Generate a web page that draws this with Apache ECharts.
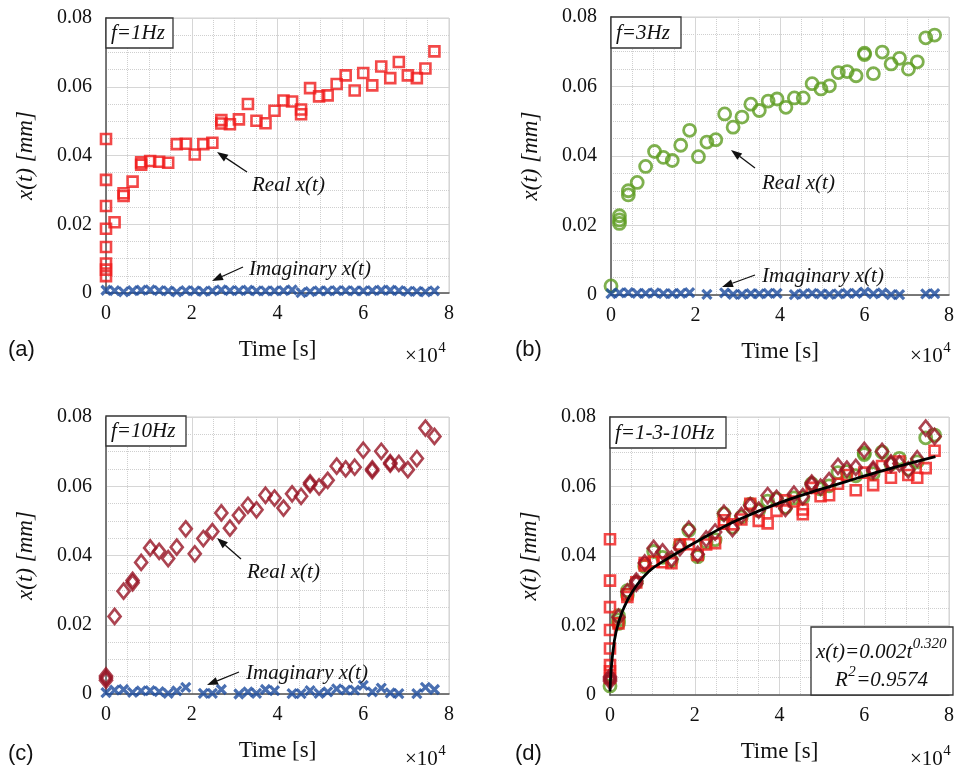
<!DOCTYPE html>
<html>
<head>
<meta charset="utf-8">
<script src="https://cdn.jsdelivr.net/npm/echarts@6/dist/echarts.min.js"></script>
<style>
  html, body { margin: 0; padding: 0; background: #fff; }
  #chart { width: 957px; height: 770px; }
</style>
</head>
<body>
<div id="chart"></div>
<script>
// time in units of 1e4 s
const timeE4 = [0, 0.2, 0.41, 0.62, 0.82, 1.03, 1.24, 1.45, 1.65, 1.86, 2.07, 2.27, 2.48, 2.69, 2.89, 3.1, 3.31, 3.51, 3.72, 3.93,
    4.14, 4.34, 4.55, 4.76, 4.97, 5.17, 5.38, 5.59, 5.8, 6.0, 6.21, 6.42, 6.63, 6.83, 7.04, 7.25, 7.45, 7.66];

// f = 1Hz
const realA = [0.0448, 0.0206, 0.029, 0.0324, 0.038, 0.0384, 0.0382, 0.0379, 0.0433, 0.0434, 0.0403, 0.0433, 0.0437, 0.0503, 0.0491, 0.0505,
    0.055, 0.0501, 0.0494, 0.053, 0.056, 0.0557, 0.0534, 0.0596, 0.0572, 0.0575, 0.0608, 0.0633, 0.0589, 0.064, 0.0604, 0.0659, 0.0625,
    0.0672, 0.0633, 0.0625, 0.0653, 0.0703];
const realAExtraT = [0, 0, 0, 0, 0, 0, 0, 0.41, 0.82, 2.69, 4.55];
const realAExtraV = [0.0329, 0.0253, 0.0187, 0.0134, 0.0086, 0.0068, 0.0049, 0.0282, 0.0373, 0.0493, 0.052];
const imagA = [0.0008, 0.0007, 0.0003, 0.0007, 0.0008, 0.0009, 0.0007, 0.0006, 0.0003, 0.0007, 0.0006, 0.0005, 0.0006, 0.0009, 0.0007,
    0.0007, 0.0008, 0.0006, 0.0006, 0.0006, 0.0007, 0.0009, 0.0001, 0.0004, 0.0006, 0.0006, 0.0007, 0.0007, 0.0006, 0.0006, 0.0007,
    0.0008, 0.0008, 0.0007, 0.0005, 0.0005, 0.0003, 0.0006];

// f = 3Hz
const realB = [0.0026, 0.0216, 0.0288, 0.0324, 0.037, 0.0413, 0.0396, 0.0387, 0.0431, 0.0474, 0.0398, 0.044, 0.0447, 0.0521, 0.0483,
    0.0512, 0.0549, 0.0531, 0.0558, 0.0564, 0.054, 0.0567, 0.0567, 0.0608, 0.0593, 0.0602, 0.064, 0.0643, 0.0631, 0.0696, 0.0637,
    0.0699, 0.0665, 0.0681, 0.065, 0.0671, 0.074, 0.0748];
const realBExtraT = [0.2, 0.2, 0.41, 6.0];
const realBExtraV = [0.0228, 0.0206, 0.030, 0.0692];
const imagB = [0.0004, 0.0006, 0.0007, 0.0005, 0.0005, 0.0006, 0.0004, 0.0004, 0.0005, 0.0007, null, 0.0002, null, 0.0006, 0.0002,
    0.0002, 0.0004, 0.0003, 0.0005, 0.0005, null, 0.0001, 0.0003, 0.0005, 0.0003, 0.0002, 0.0003, 0.0005, 0.0005, 0.0008, 0.0003,
    0.0006, 0.0001, 0.0001, null, null, 0.0003, 0.0004];

// f = 10Hz
const realC = [0.0046, 0.0224, 0.0297, 0.0328, 0.038, 0.0422, 0.0412, 0.0391, 0.0424, 0.0477, 0.0405, 0.0449, 0.0469, 0.0523, 0.0479,
    0.0516, 0.0545, 0.0532, 0.0574, 0.0566, 0.0537, 0.0578, 0.0571, 0.061, 0.0598, 0.0617, 0.0658, 0.065, 0.0655, 0.0704, 0.065,
    0.0701, 0.0664, 0.0666, 0.0648, 0.068, 0.0768, 0.0744];
const realCExtraT = [0, 0, 0.62, 4.76, 6.21, 6.63];
const realCExtraV = [0.0040, 0.0052, 0.0321, 0.0605, 0.0645, 0.0668];
const imagC = [0.0004, 0.0011, 0.0013, 0.0005, 0.0009, 0.001, 0.0007, 0.0002, 0.0009, 0.0019, null, 0.0002, 0.0002, 0.0013, null,
    0.0000, 0.0006, 0.0002, 0.0013, 0.001, null, 0.0001, 0.0001, 0.001, 0.0002, 0.0006, 0.0015, 0.0011, 0.0011, 0.0025, 0.0006,
    0.0017, 0.0003, 0.0001, null, 0.0001, 0.0019, 0.0013];

// power-law fit
const fitT = [0, 0.02, 0.06, 0.14, 0.29, 0.53, 0.92, 1.3, 1.77, 2.39, 3.0, 4.0, 5.0, 5.81, 6.5, 7.68];
const fitV = [0.001, 0.006, 0.0115, 0.018, 0.024, 0.0298, 0.0356, 0.0388, 0.0422, 0.0465, 0.0503, 0.0553, 0.0593, 0.0623, 0.0648, 0.0686];

const xTicks = [0, 2, 4, 6, 8];
const yTicks = [0, 0.02, 0.04, 0.06, 0.08];

const RED = '#f01a1a', GREEN = '#5e9c22', DRED = '#971526', BLUE = '#1b4b9e';
const SERIF = '"Liberation Serif", "DejaVu Serif", serif';

const pairs = (ts, vs) => ts.map((t, i) => [t, vs[i]]).filter(p => p[1] !== null);

const grids = [
    { left: 106, top: 18, width: 343, height: 275 },
    { left: 611, top: 17, width: 342, height: 278 },
    { left: 106, top: 417, width: 343, height: 277 },
    { left: 610, top: 417, width: 343, height: 278 }
];

function xAxis(i) {
    return {
        type: 'value', gridIndex: i, min: xTicks[0], max: xTicks[xTicks.length - 1], interval: 2,
        name: 'Time [s]', nameLocation: 'middle', nameGap: 45,
        nameTextStyle: { fontFamily: SERIF, fontSize: 23, color: '#111' },
        axisLine: { onZero: false, lineStyle: { color: '#555', width: 1.5 } },
        axisTick: { show: false },
        minorTick: { show: true, splitNumber: 4, length: 0 },
        axisLabel: { fontFamily: SERIF, fontSize: 20, color: '#111', margin: 11 },
        splitLine: { lineStyle: { color: '#d6d6d6', width: 1 } },
        minorSplitLine: { show: true, lineStyle: { color: '#cfcfcf', type: 'dotted', width: 1 } }
    };
}

function yAxis(i) {
    return {
        type: 'value', gridIndex: i, min: yTicks[0], max: yTicks[yTicks.length - 1], interval: 0.02,
        name: 'x(t) [mm]', nameLocation: 'middle', nameGap: 69, nameRotate: 90,
        nameTextStyle: { fontFamily: SERIF, fontSize: 23, fontStyle: 'italic', color: '#111' },
        axisLine: { show: true, onZero: false, lineStyle: { color: '#555', width: 1.5 } },
        axisTick: { show: false },
        minorTick: { show: true, splitNumber: 4, length: 0 },
        axisLabel: {
            fontFamily: SERIF, fontSize: 20, color: '#111', margin: 14,
            formatter: v => (v === 0 ? '0' : v.toFixed(2))
        },
        splitLine: { lineStyle: { color: '#d6d6d6', width: 1 } },
        minorSplitLine: { show: true, lineStyle: { color: '#cfcfcf', type: 'dotted', width: 1 } }
    };
}

const CROSS = 'path://M0,0L10,10M10,0L0,10';

function scatter(i, data, symbol, size, color, bw) {
    return {
        type: 'scatter', xAxisIndex: i, yAxisIndex: i, data: data, symbol: symbol, symbolSize: size,
        clip: false, silent: true,
        itemStyle: { color: 'rgba(0,0,0,0)', borderColor: color, borderWidth: bw }
    };
}

const squares = i => scatter(i, pairs(timeE4, realA).concat(pairs(realAExtraT, realAExtraV)), 'rect', 10, RED, 2.6);
const circles = i => scatter(i, pairs(timeE4, realB).concat(pairs(realBExtraT, realBExtraV)), 'circle', 12, GREEN, 2.8);
const diamonds = i => scatter(i, pairs(timeE4, realC).concat(pairs(realCExtraT, realCExtraV)), 'diamond', [12, 15], DRED, 2.7);
const crosses = (i, vals) => scatter(i, pairs(timeE4, vals), CROSS, 9, BLUE, 3.2);

const series = [
    squares(0), crosses(0, imagA),
    circles(1), crosses(1, imagB),
    diamonds(2), crosses(2, imagC),
    circles(3), squares(3), diamonds(3),
    {
        type: 'line', xAxisIndex: 3, yAxisIndex: 3, data: pairs(fitT, fitV), smooth: 0.4,
        showSymbol: false, silent: true, lineStyle: { color: '#000', width: 2.8 }, z: 5
    }
];

// ---- annotations ----
const measure = document.createElement('canvas').getContext('2d');
function textW(s, font) { measure.font = font; return measure.measureText(s).width; }

function txt(x, y, s, font, align) {
    return { type: 'text', x: x, y: y, z: 100, style: { text: s, font: font, fill: '#111', align: align || 'left', verticalAlign: 'middle' } };
}

function supTxt(x, y, base, sup, size, supSize, italic) {
    const f = (italic ? 'italic ' : '') + size + 'px ' + SERIF;
    const fs = (italic ? 'italic ' : '') + supSize + 'px ' + SERIF;
    const w = textW(base, f);
    return [txt(x, y, base, f), txt(x + w + 0.5, y - size * 0.38, sup, fs)];
}

function arrow(x1, y1, x2, y2) {
    const a = Math.atan2(y2 - y1, x2 - x1), L = 11, W = 4;
    const bx = x2 - L * Math.cos(a), by = y2 - L * Math.sin(a);
    const px = -Math.sin(a) * W, py = Math.cos(a) * W;
    return [
        { type: 'line', z: 100, shape: { x1: x1, y1: y1, x2: bx, y2: by }, style: { stroke: '#111', lineWidth: 1.3 } },
        { type: 'polygon', z: 100, shape: { points: [[x2, y2], [bx + px, by + py], [bx - px, by - py]] }, style: { fill: '#111' } }
    ];
}

function box(x, y, w, h) {
    return { type: 'rect', z: 99, shape: { x: x, y: y, width: w, height: h }, style: { fill: '#fff', stroke: '#333', lineWidth: 1.3 } };
}

const IT = 'italic 21px ' + SERIF;
const SANS = '22px "Liberation Sans", Arial, sans-serif';

let graphic = [];
// frequency boxes
graphic.push(box(106, 18, 67, 30), txt(111, 33, 'f=1Hz', IT));
graphic.push(box(611, 17, 70, 31), txt(616, 33, 'f=3Hz', IT));
graphic.push(box(106, 416, 80, 30), txt(111, 431, 'f=10Hz', IT));
graphic.push(box(610, 417, 116, 31), txt(615, 433, 'f=1-3-10Hz', IT));

// real / imaginary labels
graphic.push(txt(252, 185, 'Real x(t)', IT), txt(249, 269, 'Imaginary x(t)', IT));
graphic = graphic.concat(arrow(247, 172, 217, 152), arrow(243, 267, 212, 281));
graphic.push(txt(762, 183, 'Real x(t)', IT), txt(762, 276, 'Imaginary x(t)', IT));
graphic = graphic.concat(arrow(755, 168, 731, 150), arrow(755, 275, 722, 287));
graphic.push(txt(247, 572, 'Real x(t)', IT), txt(246, 673, 'Imaginary x(t)', IT));
graphic = graphic.concat(arrow(241, 559, 217, 538), arrow(239, 672, 207, 685));

// fit equation box
graphic.push(box(811, 627, 142, 68));
const eqBase = 'x(t)=0.002t';
const eqW = textW(eqBase, IT) + textW('0.320', 'italic 15px ' + SERIF);
graphic = graphic.concat(supTxt(881 - eqW / 2, 652, eqBase, '0.320', 21, 15, true));
const r2W = textW('R', IT) + textW('2', 'italic 15px ' + SERIF) + textW('=0.9574', IT);
const r2x = 881 - r2W / 2;
graphic = graphic.concat(supTxt(r2x, 680, 'R', '2', 21, 15, true));
graphic.push(txt(r2x + textW('R', IT) + textW('2', 'italic 15px ' + SERIF) + 1, 680, '=0.9574', IT));

// x10^4 multipliers
[[405, 356], [910, 356], [405, 759], [910, 759]].forEach(p => {
    graphic = graphic.concat(supTxt(p[0], p[1], '\u00d710', '4', 21, 15, false));
});

// panel letters
graphic.push(txt(8, 350, '(a)', SANS), txt(515, 350, '(b)', SANS), txt(8, 754, '(c)', SANS), txt(515, 754, '(d)', SANS));

const chart = echarts.init(document.getElementById('chart'));
chart.setOption({
    backgroundColor: '#fff',
    animation: false,
    grid: grids.map(g => Object.assign({ show: true, borderColor: '#d0d0d0', borderWidth: 1, backgroundColor: 'transparent' }, g)),
    xAxis: grids.map((g, i) => xAxis(i)),
    yAxis: grids.map((g, i) => yAxis(i)),
    series: series,
    graphic: graphic
});
</script>
</body>
</html>
